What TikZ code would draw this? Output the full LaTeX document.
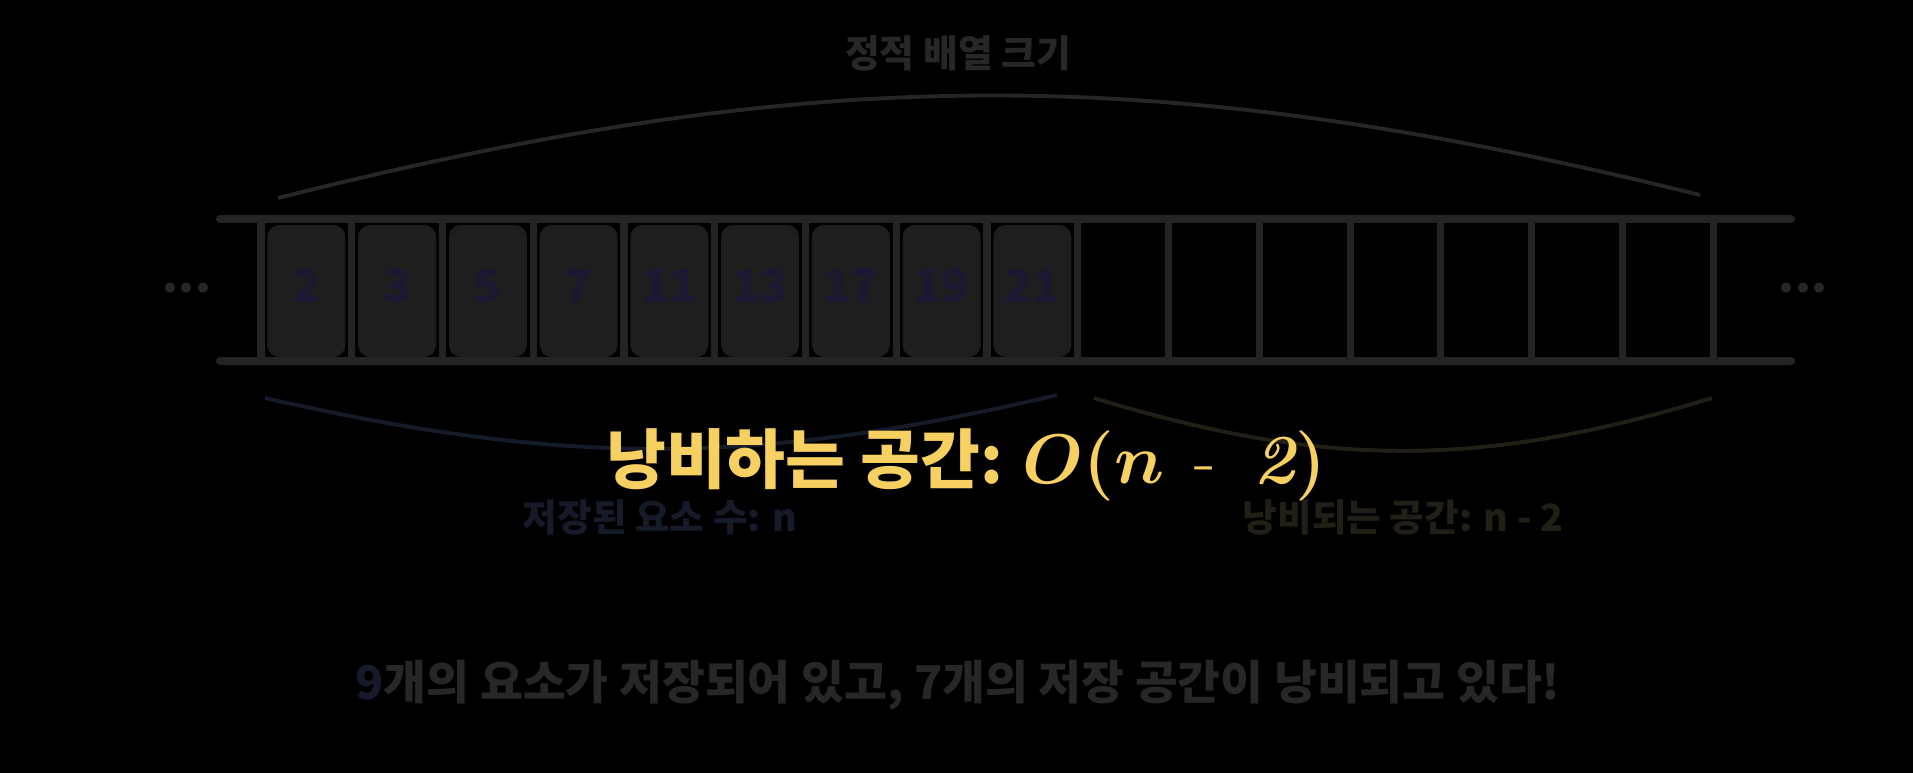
\RequirePackage{fix-cm}
\documentclass[tikz,border=0pt]{standalone}
\usepackage{xcolor}
\usepackage{fontspec}
\usepackage{tikz}
\usetikzlibrary{positioning, calc}
\newfontfamily\krfont{Noto Sans CJK KR}
\definecolor{railgray}{HTML}{242424}
\definecolor{boxgray}{HTML}{1E1E1E}
\definecolor{numnavy}{HTML}{1C1831}
\definecolor{arcgray}{HTML}{262626}
\definecolor{arcnavy}{HTML}{161B2A}
\definecolor{arcbrown}{HTML}{221F17}
\definecolor{textgray}{HTML}{272727}
\definecolor{wasteyellow}{HTML}{F7D062}
\tikzset{
    rail/.style={draw=railgray, line width=4.6pt, line cap=round},
    sep/.style={draw=railgray, line width=4pt},
    valbox/.style={
        rectangle, fill=boxgray, rounded corners=0.24cm,
        minimum width=1.56cm, minimum height=2.64cm, inner sep=0pt
    },
    valnum/.style={font=\krfont\bfseries\fontsize{26}{30}\selectfont, text=numnavy, inner sep=0pt},
    brace/.style={line width=2.2pt},
    % Label Styles
    dots/.style={font=\krfont\bfseries\fontsize{26}{30}\selectfont, text=textgray, inner sep=0pt},
    sizelabel/.style={font=\krfont\bfseries\fontsize{21.5}{26}\selectfont, text=textgray, inner sep=0pt},
    countlabel/.style={font=\krfont\bfseries\fontsize{21.4}{26}\selectfont, inner sep=0pt},
    wastelabel/.style={font=\krfont\bfseries\fontsize{37}{44}\selectfont, text=wasteyellow, inner sep=0pt},
    summary/.style={font=\krfont\bfseries\fontsize{26.5}{32}\selectfont, text=textgray, inner sep=0pt}
}

\begin{document}
\begin{tikzpicture}[x=0.02cm, y=-0.02cm]
        \fill[black] (0,0) rectangle (1913,773);
        \useasboundingbox (0,0) rectangle (1913,773);

        % array cells
        \foreach \k in {0,...,16}
            \draw[sep] ({261+90.75*\k},219) -- ({261+90.75*\k},361);
        \draw[rail] (220,219) -- (1791,219);
        \draw[rail] (220,361) -- (1791,361);
        \foreach \v [count=\i] in {2,3,5,7,11,13,17,19,21} {
            \node[valbox] (b\i) at ({261+90.75*(\i-0.5)},291) {};
            \node[valnum] (n\i) at ([yshift=2.8pt]b\i.center) {\v};
        }
        \node[dots, anchor=base] (dotsL) at (187,293) {...};
        \node[dots, anchor=base] (dotsR) at (1803,293) {...};

        % braces
        \coordinate (topL) at (278,198);
        \coordinate (topR) at (1700,195);
        \coordinate (usedL) at (265,398);
        \coordinate (usedR) at (1057,395);
        \coordinate (freeL) at (1094,398);
        \coordinate (freeR) at (1712,398);
        \draw[brace, arcgray] (topL) to[bend left=14] (topR);
        \draw[brace, arcnavy] (usedL) to[bend right=13] (usedR);
        \draw[brace, arcbrown] (freeL) to[bend right=17] (freeR);

        \node[sizelabel, anchor=base] (size) at (958,68) {정적 배열 크기};
        \node[countlabel, anchor=base, text=arcnavy] (used) at (660,531) {저장된 요소 수: n};
        \node[countlabel, anchor=base, text=arcbrown] (free) at (1403,531) {낭비되는 공간: n - 2};
        \node[wastelabel, anchor=base west] (waste) at (606,483)
            {낭비하는 공간: {\fontsize{40}{46}\selectfont\boldmath$O(n\ \,\mbox{\normalfont -}\ \;\mbox{\normalfont\bfseries\itshape 2})$}};
        \node[summary, anchor=base] (sum) at (958,699)
            {{\color{arcnavy}9}개의 요소가 저장되어 있고, 7개의 저장 공간이 낭비되고 있다!};
    \end{tikzpicture}
\end{document}
